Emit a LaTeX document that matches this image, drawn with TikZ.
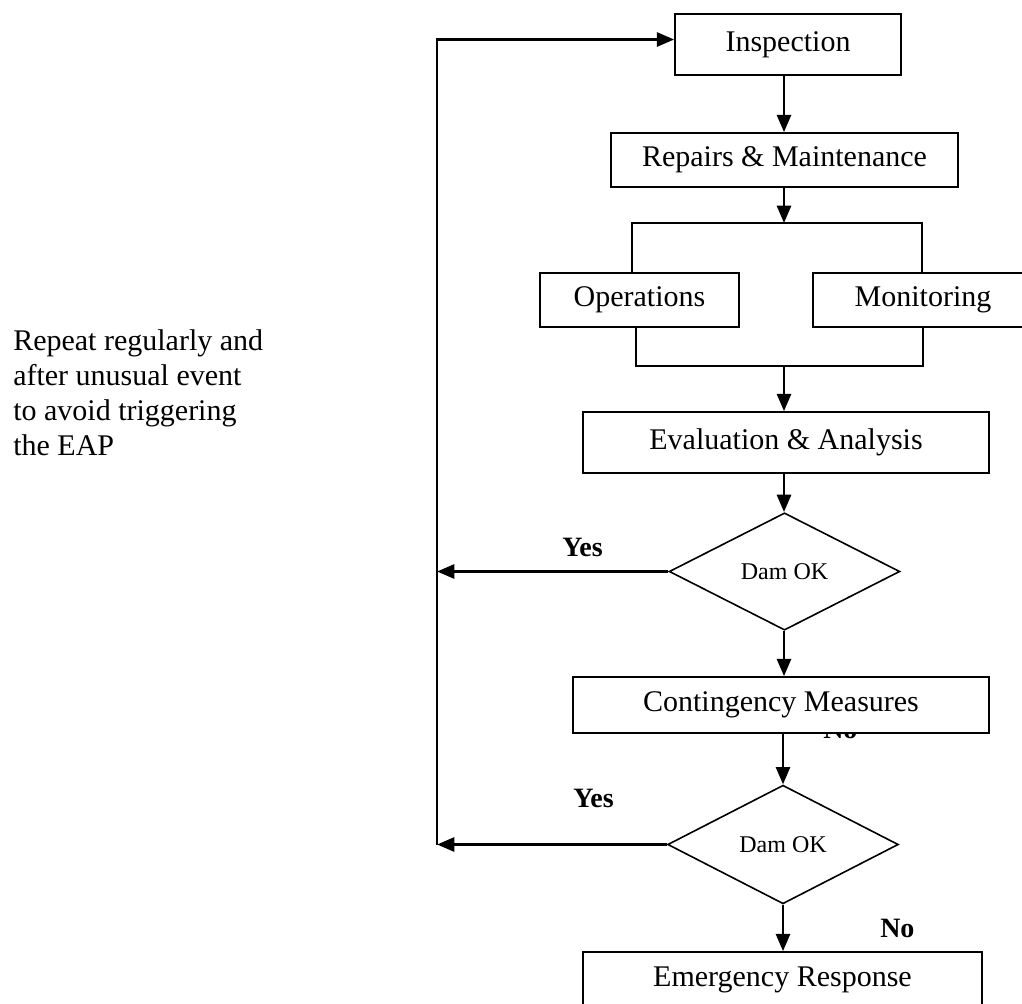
\documentclass[tikz,border=0pt]{standalone}
\usepackage{fontspec}
\setmainfont{Liberation Serif}
\usetikzlibrary{arrows.meta,shapes.geometric}
\begin{document}
\begin{tikzpicture}[x=0.75pt,y=-0.75pt,
  box/.style={draw,line width=1.2pt,fill=white,inner sep=0pt,font=\fontsize{22.5}{27}\selectfont},
  dec/.style={draw,diamond,line width=1.2pt,fill=white,inner sep=0pt,
    minimum width=173pt,minimum height=88pt,font=\fontsize{18}{21}\selectfont},
  arr/.style={line width=2.1pt,-{Triangle[length=13pt,width=10.5pt]}},
  bl/.style={line width=1.2pt},
  lbl/.style={font=\bfseries\fontsize{21}{25}\selectfont,inner sep=0pt,anchor=base west},
  note/.style={font=\fontsize{22.5}{26}\selectfont,inner sep=0pt,anchor=base west}]
\useasboundingbox (0,0) rectangle (1022,1004);

% left note
\node[note] (n1) at (13,350) {Repeat regularly and};
\node[note] (n2) at (13,385) {after unusual event};
\node[note] (n3) at (13,420) {to avoid triggering};
\node[note] (n4) at (13,455) {the EAP};

% hidden label (drawn below the contingency box)
\node[lbl] (no1) at (823,738) {No};

% boxes
\node[box,minimum width=169.5pt,minimum height=45.75pt] (insp) at (788,44.5) {Inspection};
\node[box,minimum width=260.25pt,minimum height=40.5pt] (rep) at (784.5,160) {Repairs \& Maintenance};
\node[box,minimum width=149.25pt,minimum height=40.5pt] (op) at (639.5,300) {Operations};
\node[box,minimum width=165pt,minimum height=40.5pt] (mon) at (923,300) {Monitoring};
\node[box,minimum width=304.5pt,minimum height=45.75pt] (eval) at (786,442.5) {Evaluation \& Analysis};
\node[dec] (d1) at (784.5,571.5) {Dam OK};
\node[box,minimum width=312pt,minimum height=42pt] (cont) at (781,705) {Contingency Measures};
\node[dec,minimum height=89pt] (d2) at (783,844.5) {Dam OK};
\node[box,minimum width=299.25pt,minimum height=42pt] (emer) at (782.5,980) {Emergency Response};

% labels
\node[lbl] (yes1) at (562,556) {Yes};
\node[lbl] (yes2) at (573,807) {Yes};
\node[lbl] (no2) at (880,937) {No};

% helper coordinates
\coordinate (col) at (784,0);
\coordinate (sp) at (784,223);
\coordinate (spl) at (632,223);
\coordinate (spr) at (922,223);
\coordinate (mg) at (784,366);
\coordinate (mgl) at (636,366);
\coordinate (mgr) at (923,366);
\coordinate (lt) at (437,39.5);

% main flow
\draw[arr] (insp.south -| col) -- (rep.north -| col);
\draw[arr] (rep.south -| col) -- (sp);
\draw[bl] (op.north -| spl) -- (spl) -- (spr) -- (mon.north -| spr);
\draw[bl] (op.south -| mgl) -- (mgl) -- (mgr) -- (mon.south -| mgr);
\draw[arr] (mg) -- (eval.north -| mg);
\draw[arr] (eval.south -| col) -- (d1.north -| col);
\draw[arr] (d1.south -| col) -- (cont.north -| col);
\draw[arr] (cont.south -| d2.north) -- (d2.north);
\draw[arr] (d2.south) -- (emer.north -| d2.south);

% yes loops
\draw[arr] (d1.west) -- (d1.west -| lt);
\draw[arr] (d2.west) -- (d2.west -| lt);
\draw[arr] (d2.west -| lt) -- (lt) -- (lt -| insp.west);
\end{tikzpicture}
\end{document}
